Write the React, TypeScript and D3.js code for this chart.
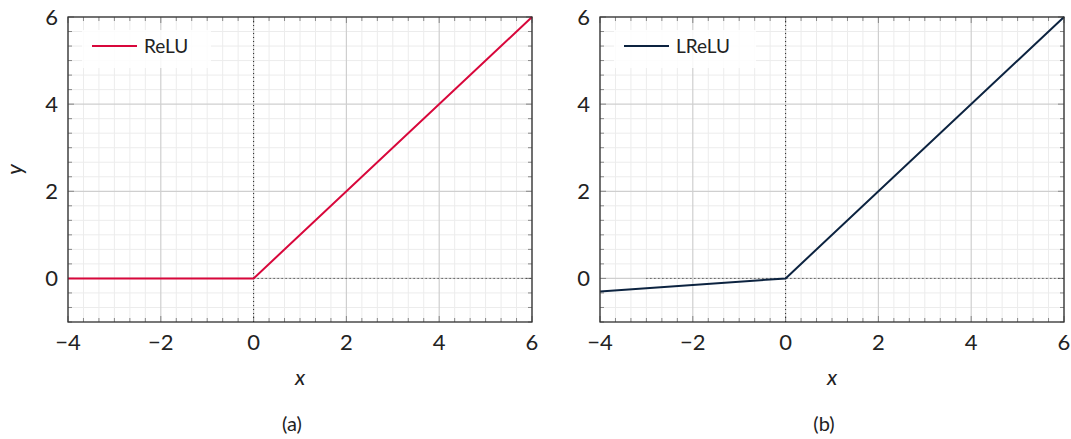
import React from "react";
import * as d3 from "d3";

// data
const xs = [-4, 0, 6];
const reluY = [0, 0, 6];
const lreluY = [-0.3, 0, 6];
const xTicks = [-4, -2, 0, 2, 4, 6];
const yTicks = [0, 2, 4, 6];
const panelNames = ["ReLU", "LReLU"];
const captions = ["(a)", "(b)"];
const colors = ["#d8073b", "#0c2340"];

const FONT = "Lato, 'Open Sans', sans-serif";
const W = 464;
const H = 305;
const top = 17;

const Panel = ({ left, ys, name, color, caption, showY, zeroFrom }) => {
  const x = d3.scaleLinear().domain([-4, 6]).range([left, left + W]);
  const y = d3.scaleLinear().domain([-1, 6]).range([top + H, top]);

  const minorX = d3.range(-12, 19).map((i) => i / 3);
  const minorY = d3.range(-3, 19).map((i) => i / 3);
  const isMajorX = (v) => xTicks.some((t) => Math.abs(t - v) < 1e-6);
  const isMajorY = (v) => yTicks.some((t) => Math.abs(t - v) < 1e-6);

  const line = d3
    .line()
    .x((d) => x(d[0]))
    .y((d) => y(d[1]));
  const pts = xs.map((v, i) => [v, ys[i]]);

  const boxW = 77 + 13 * name.length;
  const lx = x(-4) + 14;
  const ly = y(6) + 13;
  const tickCol = "#888";

  return (
    <g>
      {/* minor grid */}
      {minorX.filter((v) => !isMajorX(v)).map((v, i) => (
        <line key={"mx" + i} x1={x(v)} x2={x(v)} y1={y(-1)} y2={y(6)} stroke="#ececec" strokeWidth={1} />
      ))}
      {minorY.filter((v) => !isMajorY(v)).map((v, i) => (
        <line key={"my" + i} x1={x(-4)} x2={x(6)} y1={y(v)} y2={y(v)} stroke="#ececec" strokeWidth={1} />
      ))}
      {/* major grid */}
      {xTicks.map((v) => (
        <line key={"Mx" + v} x1={x(v)} x2={x(v)} y1={y(-1)} y2={y(6)} stroke="#cfcfcf" strokeWidth={1.2} />
      ))}
      {yTicks.map((v) => (
        <line key={"My" + v} x1={x(-4)} x2={x(6)} y1={y(v)} y2={y(v)} stroke="#cfcfcf" strokeWidth={1.2} />
      ))}
      {/* ticks, all sides */}
      {minorX.map((v, i) => {
        const len = isMajorX(v) ? 6 : 4;
        return (
          <g key={"tx" + i}>
            <line x1={x(v)} x2={x(v)} y1={y(-1)} y2={y(-1) - len} stroke={tickCol} strokeWidth={1} />
            <line x1={x(v)} x2={x(v)} y1={y(6)} y2={y(6) + len} stroke={tickCol} strokeWidth={1} />
          </g>
        );
      })}
      {minorY.map((v, i) => {
        const len = isMajorY(v) ? 6 : 4;
        return (
          <g key={"ty" + i}>
            <line x1={x(-4)} x2={x(-4) + len} y1={y(v)} y2={y(v)} stroke={tickCol} strokeWidth={1} />
            <line x1={x(6)} x2={x(6) - len} y1={y(v)} y2={y(v)} stroke={tickCol} strokeWidth={1} />
          </g>
        );
      })}
      {/* zero lines */}
      <line x1={x(0)} x2={x(0)} y1={y(-1)} y2={y(6)} stroke="#222" strokeWidth={1} strokeDasharray="1,3" />
      <line x1={x(zeroFrom)} x2={x(6)} y1={y(0)} y2={y(0)} stroke="#222" strokeWidth={1} strokeDasharray="1,3" />
      {/* curve */}
      <path d={line(pts)} fill="none" stroke={color} strokeWidth={2} />
      {/* frame */}
      <rect x={x(-4)} y={y(6)} width={W} height={H} fill="none" stroke="#333" strokeWidth={1.3} />
      {/* legend */}
      <rect x={lx} y={ly} width={boxW} height={38} fill="#fff" fillOpacity={0.85} />
      <line x1={lx + 10} x2={lx + 55} y1={ly + 16} y2={ly + 16} stroke={color} strokeWidth={2} />
      <text x={lx + 62} y={ly + 23} fontSize={19} fontFamily={FONT} fill="#222">{name}</text>
      {/* tick labels */}
      {xTicks.map((v) => (
        <text key={"lx" + v} x={x(v)} y={y(-1) + 28} fontSize={22} fontFamily={FONT} textAnchor="middle" fill="#222">
          {v < 0 ? "\u2212" + Math.abs(v) : v}
        </text>
      ))}
      {yTicks.map((v) => (
        <text key={"ly" + v} x={x(-4) - 10} y={y(v) + 8} fontSize={22} fontFamily={FONT} textAnchor="end" fill="#222">
          {v}
        </text>
      ))}
      <text x={left + W / 2} y={385} fontSize={22} fontFamily={FONT} fontStyle="italic" textAnchor="middle" fill="#222">x</text>
      {showY && (
        <text transform={`translate(22,${y(2.5)}) rotate(-90)`} fontSize={22} fontFamily={FONT} fontStyle="italic" textAnchor="middle" fill="#222">y</text>
      )}
      <text x={left + W / 2 - 8} y={431} fontSize={20} fontFamily={FONT} textAnchor="middle" fill="#222">{caption}</text>
    </g>
  );
};

export default function App() {
  return (
    <svg width={1071} height={439} style={{ position: "absolute", left: 0, top: 0, background: "#fff" }}>
      <Panel left={68} ys={reluY} name={panelNames[0]} color={colors[0]} caption={captions[0]} showY={true} zeroFrom={0} />
      <Panel left={600} ys={lreluY} name={panelNames[1]} color={colors[1]} caption={captions[1]} showY={false} zeroFrom={-3} />
    </svg>
  );
}
